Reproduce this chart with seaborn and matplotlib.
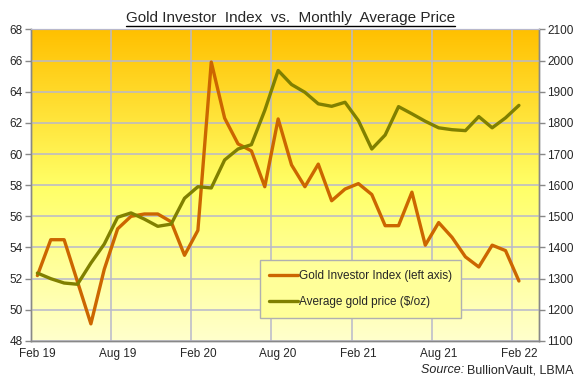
import matplotlib
matplotlib.use("Agg")
import matplotlib.pyplot as plt
import numpy as np
import seaborn as sns
from matplotlib.colors import LinearSegmentedColormap
from matplotlib.lines import Line2D

# monthly data, Feb 2019 .. Feb 2022
investor_index = [52.2, 54.5, 54.5, 51.8, 49.1, 52.6, 55.2, 56.0, 56.15, 56.15,
                  55.65, 53.5, 55.1, 65.9, 62.3, 60.65, 60.2, 57.9, 62.25, 59.3,
                  57.9, 59.35, 57.0, 57.75, 58.1, 57.4, 55.4, 55.4, 57.55, 54.15,
                  55.6, 54.65, 53.4, 52.75, 54.15, 53.8, 51.85]
gold_price = [1318, 1300, 1286, 1282, 1350, 1411, 1497, 1511, 1491, 1468,
              1475, 1558, 1595, 1591, 1681, 1716, 1730, 1840, 1968, 1923,
              1898, 1861, 1853, 1866, 1807, 1716, 1761, 1852, 1829, 1805,
              1784, 1778, 1775, 1820, 1784, 1816, 1856]
tick_labels = ["Feb 19", "Aug 19", "Feb 20", "Aug 20", "Feb 21", "Aug 21", "Feb 22"]

months = np.arange(len(investor_index))
RED = "#cc6600"
GREEN = "#808000"
GRID = "#b8b8cc"
AXIS = "#888888"

sns.set_style("white")
plt.rcParams["font.family"] = ["Liberation Sans", "DejaVu Sans"]

fig = plt.figure(figsize=(5.78, 3.81), dpi=100)
ax = fig.add_axes([0.0531, 0.105, 0.8794, 0.818])
ax2 = ax.twinx()

# gradient background
cmap = LinearSegmentedColormap.from_list(
    "gold", [(0, "#ffffcc"), (0.5, "#ffff66"), (1, "#ffc000")])
grad = np.linspace(0, 1, 256).reshape(-1, 1)
ax.imshow(grad, cmap=cmap, aspect="auto", extent=(0, 1, 0, 1),
          origin="lower", transform=ax.transAxes, zorder=0)
ax.patch.set_visible(False)

sns.lineplot(x=months, y=investor_index, ax=ax, color=RED, linewidth=2.4,
             label="Gold Investor Index (left axis)", legend=False, zorder=3)
sns.lineplot(x=months, y=gold_price, ax=ax2, color=GREEN, linewidth=2.4,
             label="Average gold price ($/oz)", legend=False, zorder=3)

ax.set_xlim(-0.5, 37.5)
ax.set_ylim(48, 68)
ax2.set_ylim(1100, 2100)
ax.set_yticks(np.arange(48, 69, 2))
ax2.set_yticks(np.arange(1100, 2101, 100))

ax.set_xticks(np.arange(0, 37, 6))
ax.set_xticklabels(tick_labels)
ax.set_xticks(np.arange(-0.5, 37, 6), minor=True)
ax.tick_params(axis="x", which="major", length=0, labelsize=8.5, pad=5)
ax.tick_params(axis="x", which="minor", length=4, color=AXIS, width=1)
ax.tick_params(axis="y", length=4, color=AXIS, width=1, labelsize=8.5, pad=2,
               left=True)
ax2.tick_params(axis="y", length=4, color=AXIS, width=1, labelsize=8.5, pad=2,
                right=True)

ax.grid(True, which="minor", axis="x", color=GRID, linewidth=1.1, zorder=1)
ax.grid(True, which="major", axis="y", color=GRID, linewidth=1.1, zorder=1)
ax.grid(False, which="major", axis="x")
ax.set_axisbelow(False)
for a in (ax, ax2):
    a.set_xlabel("")
    a.set_ylabel("")
    for side in ("left", "right", "bottom"):
        a.spines[side].set_color(AXIS)
        a.spines[side].set_linewidth(1)
    a.spines["top"].set_color(GRID)

handles = [Line2D([], [], color=RED, linewidth=2.4),
           Line2D([], [], color=GREEN, linewidth=2.4)]
leg = ax2.legend(handles, ["Gold Investor Index (left axis)", "Average gold price ($/oz)"],
                 loc="lower left", bbox_to_anchor=(0.451, 0.074), borderaxespad=0,
                 fontsize=8.5, frameon=True, fancybox=False, handlelength=2.4,
                 handletextpad=0.1, labelspacing=1.25, borderpad=0.8)
leg.get_frame().set_facecolor("#ffff99")
leg.get_frame().set_edgecolor("#b0b0b0")
leg.get_frame().set_alpha(1)
leg.set_zorder(10)

title = fig.text(0.502, 0.942, "Gold Investor  Index  vs.  Monthly  Average Price",
                 ha="center", va="baseline", fontsize=11)
src = fig.text(0.993, 0.012, "BullionVault, LBMA", ha="right", va="bottom", fontsize=9)

fig.canvas.draw()
renderer = fig.canvas.get_renderer()
bb = title.get_window_extent(renderer)
inv = fig.transFigure.inverted()
x0, y0 = inv.transform((bb.x0, bb.y0))
x1, _ = inv.transform((bb.x1, bb.y0))
fig.add_artist(Line2D([x0, x1], [y0 - 0.002, y0 - 0.002], transform=fig.transFigure,
                      color="black", linewidth=1))
sbb = src.get_window_extent(renderer)
sx0, _ = inv.transform((sbb.x0, sbb.y0))
fig.text(sx0, 0.012, "Source: ", ha="right", va="bottom", fontsize=9, style="italic")

fig.savefig("out.png", dpi=100)
